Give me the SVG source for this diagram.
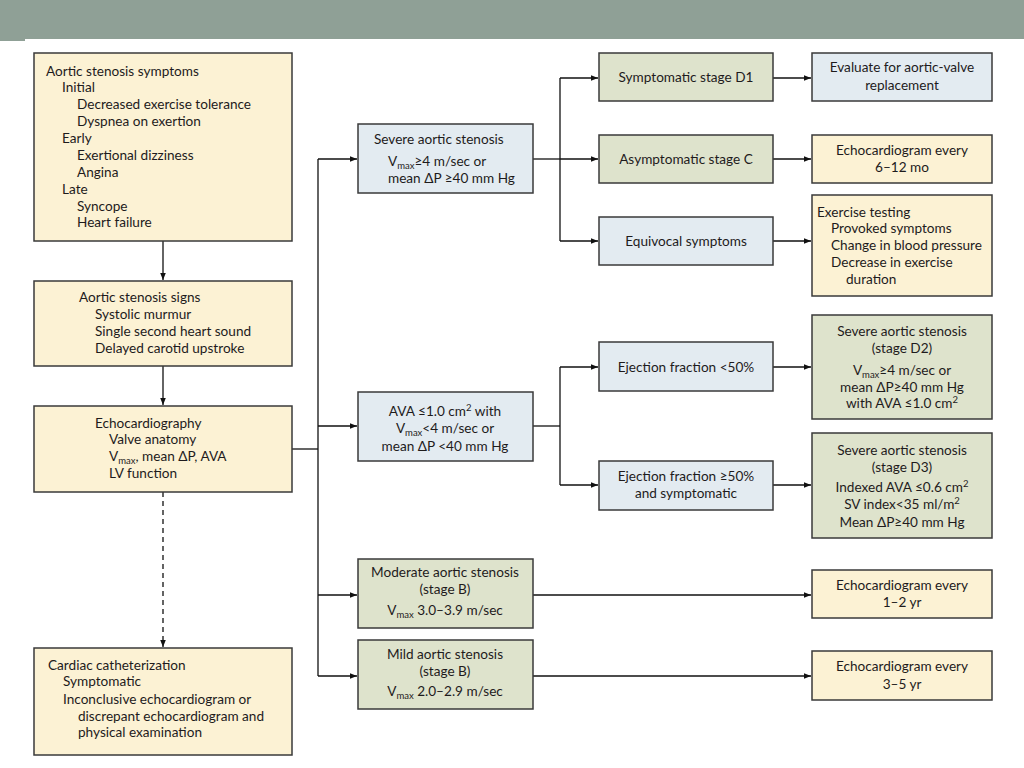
<svg xmlns="http://www.w3.org/2000/svg" width="1024" height="768" viewBox="0 0 1024 768">
<defs>
<style>
text{font-family:Lato,"Open Sans","Liberation Sans",sans-serif;font-size:13.6px;fill:#1e1b1c}
.c{text-anchor:middle}
.sub{font-size:9.5px}
.box{stroke:#3a3a3a;stroke-width:1.5}
.y{fill:#fcf2d4}
.b{fill:#e3ebf1}
.g{fill:#dee3cc}
.ln{fill:none;stroke:#111;stroke-width:1.3}
.dash{stroke-dasharray:5 4}
</style>
<marker id="ah" viewBox="0 0 10 10" refX="10" refY="5" markerWidth="9" markerHeight="7" markerUnits="userSpaceOnUse" orient="auto">
<path d="M0,1 L10,5 L0,9 z" fill="#111"/>
</marker>
</defs>
<rect width="1024" height="768" fill="#ffffff"/>
<rect x="0" y="0" width="1024" height="39" fill="#8fa096"/>
<rect x="0" y="0" width="25" height="41" fill="#8fa096"/>

<g id="connectors">
<line class="ln" x1="163" y1="241" x2="163" y2="280" marker-end="url(#ah)"/>
<line class="ln" x1="163" y1="366" x2="163" y2="405" marker-end="url(#ah)"/>
<line class="ln dash" x1="163" y1="492" x2="163" y2="647" marker-end="url(#ah)"/>
<polyline class="ln" points="292,449 318,449"/>
<line class="ln" x1="318" y1="159" x2="318" y2="676"/>
<line class="ln" x1="318" y1="159" x2="357" y2="159" marker-end="url(#ah)"/>
<line class="ln" x1="318" y1="426" x2="357" y2="426" marker-end="url(#ah)"/>
<line class="ln" x1="318" y1="595" x2="357" y2="595" marker-end="url(#ah)"/>
<line class="ln" x1="318" y1="676" x2="357" y2="676" marker-end="url(#ah)"/>
<line class="ln" x1="533" y1="159" x2="560" y2="159"/>
<line class="ln" x1="560" y1="78" x2="560" y2="241"/>
<line class="ln" x1="560" y1="78" x2="598" y2="78" marker-end="url(#ah)"/>
<line class="ln" x1="560" y1="159" x2="598" y2="159" marker-end="url(#ah)"/>
<line class="ln" x1="560" y1="241" x2="598" y2="241" marker-end="url(#ah)"/>
<line class="ln" x1="773" y1="78" x2="811" y2="78" marker-end="url(#ah)"/>
<line class="ln" x1="773" y1="159" x2="811" y2="159" marker-end="url(#ah)"/>
<line class="ln" x1="773" y1="241" x2="811" y2="241" marker-end="url(#ah)"/>
<line class="ln" x1="533" y1="426" x2="560" y2="426"/>
<line class="ln" x1="560" y1="367" x2="560" y2="485"/>
<line class="ln" x1="560" y1="367" x2="598" y2="367" marker-end="url(#ah)"/>
<line class="ln" x1="560" y1="485" x2="598" y2="485" marker-end="url(#ah)"/>
<line class="ln" x1="773" y1="367" x2="811" y2="367" marker-end="url(#ah)"/>
<line class="ln" x1="773" y1="485" x2="811" y2="485" marker-end="url(#ah)"/>
<line class="ln" x1="533" y1="595" x2="811" y2="595" marker-end="url(#ah)"/>
<line class="ln" x1="533" y1="676" x2="811" y2="676" marker-end="url(#ah)"/>
</g>

<g id="symptoms">
<rect class="box y" x="34" y="53" width="258" height="188"/>
<text x="46" y="76">Aortic stenosis symptoms</text>
<text x="62" y="92">Initial</text>
<text x="77" y="109">Decreased exercise tolerance</text>
<text x="77" y="126">Dyspnea on exertion</text>
<text x="62" y="143">Early</text>
<text x="77" y="160">Exertional dizziness</text>
<text x="77" y="177">Angina</text>
<text x="62" y="194">Late</text>
<text x="77" y="211">Syncope</text>
<text x="77" y="227">Heart failure</text>
</g>

<g id="signs">
<rect class="box y" x="34" y="281" width="258" height="85"/>
<text x="79" y="302">Aortic stenosis signs</text>
<text x="95" y="319">Systolic murmur</text>
<text x="95" y="336">Single second heart sound</text>
<text x="95" y="353">Delayed carotid upstroke</text>
</g>

<g id="echo">
<rect class="box y" x="34" y="406" width="258" height="86"/>
<text x="95" y="428">Echocardiography</text>
<text x="109" y="444">Valve anatomy</text>
<text x="109" y="461">V<tspan class="sub" dy="3">max</tspan><tspan dy="-3">, mean ΔP, AVA</tspan></text>
<text x="109" y="478">LV function</text>
</g>

<g id="cath">
<rect class="box y" x="34" y="648" width="258" height="107"/>
<text x="48" y="670">Cardiac catheterization</text>
<text x="63" y="686">Symptomatic</text>
<text x="63" y="704">Inconclusive echocardiogram or</text>
<text x="78" y="721">discrepant echocardiogram and</text>
<text x="78" y="737">physical examination</text>
</g>

<g id="severe">
<rect class="box b" x="358" y="124" width="175" height="69"/>
<text x="374" y="144">Severe aortic stenosis</text>
<text x="388" y="166">V<tspan class="sub" dy="3">max</tspan><tspan dy="-3">≥4 m/sec or</tspan></text>
<text x="388" y="183">mean ΔP ≥40 mm Hg</text>
</g>

<g id="d1">
<rect class="box g" x="599" y="53" width="174" height="48"/>
<text class="c" x="686" y="82">Symptomatic stage D1</text>
</g>
<g id="stagec">
<rect class="box g" x="599" y="135" width="174" height="48"/>
<text class="c" x="686" y="164">Asymptomatic stage C</text>
</g>
<g id="equivocal">
<rect class="box b" x="599" y="217" width="174" height="48"/>
<text class="c" x="686" y="246">Equivocal symptoms</text>
</g>

<g id="evaluate">
<rect class="box b" x="812" y="53" width="180" height="48"/>
<text class="c" x="902" y="72">Evaluate for aortic-valve</text>
<text class="c" x="902" y="90">replacement</text>
</g>
<g id="echo612">
<rect class="box y" x="812" y="135" width="180" height="48"/>
<text class="c" x="902" y="155">Echocardiogram every</text>
<text class="c" x="902" y="172">6–12 mo</text>
</g>
<g id="exercise">
<rect class="box y" x="812" y="195" width="180" height="101"/>
<text x="817" y="217">Exercise testing</text>
<text x="831" y="233">Provoked symptoms</text>
<text x="831" y="250">Change in blood pressure</text>
<text x="831" y="267">Decrease in exercise</text>
<text x="846" y="284">duration</text>
</g>

<g id="ava">
<rect class="box b" x="358" y="392" width="175" height="69"/>
<text class="c" x="445" y="416">AVA ≤1.0 cm<tspan class="sub" dy="-5">2</tspan><tspan dy="5"> with</tspan></text>
<text class="c" x="445" y="433">V<tspan class="sub" dy="3">max</tspan><tspan dy="-3">&lt;4 m/sec or</tspan></text>
<text class="c" x="445" y="451">mean ΔP &lt;40 mm Hg</text>
</g>

<g id="eflow">
<rect class="box b" x="599" y="342" width="174" height="49"/>
<text class="c" x="686" y="372">Ejection fraction &lt;50%</text>
</g>
<g id="efnormal">
<rect class="box b" x="599" y="461" width="174" height="49"/>
<text class="c" x="686" y="481">Ejection fraction ≥50%</text>
<text class="c" x="686" y="498">and symptomatic</text>
</g>

<g id="d2">
<rect class="box g" x="812" y="315" width="180" height="104"/>
<text class="c" x="902" y="336">Severe aortic stenosis</text>
<text class="c" x="902" y="353">(stage D2)</text>
<text class="c" x="902" y="375">V<tspan class="sub" dy="3">max</tspan><tspan dy="-3">≥4 m/sec or</tspan></text>
<text class="c" x="902" y="392">mean ΔP≥40 mm Hg</text>
<text class="c" x="902" y="408">with AVA ≤1.0 cm<tspan class="sub" dy="-5">2</tspan></text>
</g>
<g id="d3">
<rect class="box g" x="812" y="433" width="180" height="105"/>
<text class="c" x="902" y="455">Severe aortic stenosis</text>
<text class="c" x="902" y="472">(stage D3)</text>
<text class="c" x="902" y="492">Indexed AVA ≤0.6 cm<tspan class="sub" dy="-5">2</tspan></text>
<text class="c" x="902" y="509">SV index&lt;35 ml/m<tspan class="sub" dy="-5">2</tspan></text>
<text class="c" x="902" y="527">Mean ΔP≥40 mm Hg</text>
</g>

<g id="moderate">
<rect class="box g" x="358" y="559" width="175" height="69"/>
<text class="c" x="445" y="577">Moderate aortic stenosis</text>
<text class="c" x="445" y="594">(stage B)</text>
<text class="c" x="445" y="615">V<tspan class="sub" dy="3">max</tspan><tspan dy="-3"> 3.0–3.9 m/sec</tspan></text>
</g>
<g id="mild">
<rect class="box g" x="358" y="640" width="175" height="69"/>
<text class="c" x="445" y="659">Mild aortic stenosis</text>
<text class="c" x="445" y="676">(stage B)</text>
<text class="c" x="445" y="696">V<tspan class="sub" dy="3">max</tspan><tspan dy="-3"> 2.0–2.9 m/sec</tspan></text>
</g>

<g id="echo12">
<rect class="box y" x="812" y="570" width="180" height="48"/>
<text class="c" x="902" y="590">Echocardiogram every</text>
<text class="c" x="902" y="607">1–2 yr</text>
</g>
<g id="echo35">
<rect class="box y" x="812" y="651" width="180" height="49"/>
<text class="c" x="902" y="671">Echocardiogram every</text>
<text class="c" x="902" y="689">3–5 yr</text>
</g>
</svg>
